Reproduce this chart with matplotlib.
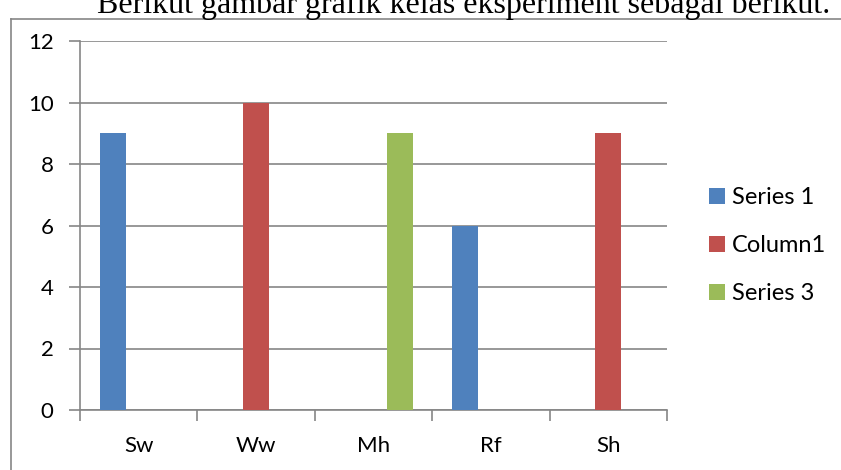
import matplotlib
matplotlib.use("Agg")
import matplotlib.pyplot as plt
import numpy as np
from matplotlib.lines import Line2D

categories = ["Sw", "Ww", "Mh", "Rf", "Sh"]
series_names = ["Series 1", "Column1", "Series 3"]
series_1 = [9, 0, 0, 6, 0]
column_1 = [0, 10, 0, 0, 9]
series_3 = [0, 0, 9, 0, 0]
y_ticks = [0, 2, 4, 6, 8, 10, 12]
colors = ["#4F81BD", "#C0504D", "#9BBB59"]
header = "Berikut gambar grafik kelas eksperiment sebagai berikut."

W, H = 841, 470
fig = plt.figure(figsize=(W / 100, H / 100), dpi=100)
ax = fig.add_axes([80 / W, 1 - 410 / H, (667 - 80) / W, (410 - 41) / H])

grid_c = "#868686"
x = np.arange(len(categories))
bw = 1 / 4.5
for i, (vals, c, name) in enumerate(zip([series_1, column_1, series_3], colors, series_names)):
    ax.bar(x + (i - 1) * bw, vals, width=bw, color=c, label=name, zorder=3)

ax.set_xlim(-0.5, len(categories) - 0.5)
ax.set_ylim(0, 12)
ax.set_yticks(y_ticks)
ax.yaxis.grid(True, color=grid_c, linewidth=1.2, zorder=0)

# category labels sit between boundary ticks
ax.set_xticks(np.arange(-0.5, len(categories)), minor=False)
ax.set_xticklabels([""] * (len(categories) + 1))
ax.set_xticks(x, minor=True)
ax.set_xticklabels(categories, minor=True)
ax.tick_params(axis="x", which="major", length=8, color=grid_c, width=1.2, direction="out")
ax.tick_params(axis="x", which="minor", length=0, pad=19, labelsize=16)
ax.tick_params(axis="y", length=8, color=grid_c, width=1.2, direction="out", pad=11, labelsize=16)

for lbl in ax.get_xticklabels(minor=True) + ax.get_yticklabels():
    lbl.set_fontfamily("Lato")

for s in ["top", "right"]:
    ax.spines[s].set_visible(False)
for s in ["left", "bottom"]:
    ax.spines[s].set_color(grid_c)
    ax.spines[s].set_linewidth(1.2)

leg = ax.legend(loc="upper left", bbox_to_anchor=(688 / W, 1 - 166 / H), bbox_transform=fig.transFigure,
                frameon=False, prop={"family": "Lato", "size": 17}, handlelength=0.65, handleheight=0.65,
                handletextpad=0.3, labelspacing=1.14)

# chart area border, running off the right and bottom edges
fig.add_artist(Line2D([11 / W, 11 / W], [0, 1 - 19 / H], color=grid_c, linewidth=1.2, transform=fig.transFigure))
fig.add_artist(Line2D([11 / W, 1.0], [1 - 19 / H, 1 - 19 / H], color=grid_c, linewidth=1.2, transform=fig.transFigure))

fig.text(464 / W, 1 - 13 / H, header, ha="center", va="baseline", fontsize=23,
         family="Liberation Serif", color="black")

fig.savefig("out.png", dpi=100)
